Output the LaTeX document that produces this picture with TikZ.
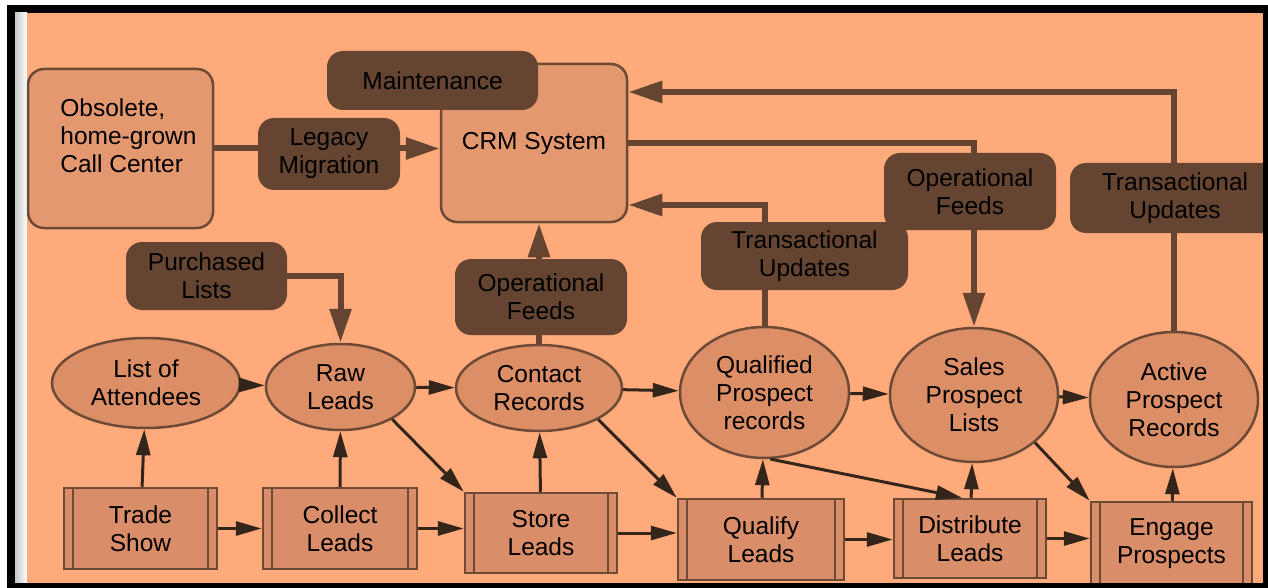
\documentclass[tikz,border=0pt]{standalone}
\usepackage{fontspec}
\setmainfont{Liberation Sans}
\usetikzlibrary{arrows.meta,shapes.geometric}
\definecolor{peach}{RGB}{255,170,123}
\definecolor{boxfill}{RGB}{228,152,112}
\definecolor{recfill}{RGB}{220,142,103}
\definecolor{procfill}{RGB}{217,141,104}
\definecolor{dark}{RGB}{101,69,50}
\definecolor{rim}{RGB}{108,74,54}
\definecolor{ink}{RGB}{52,37,27}
\begin{document}
\begin{tikzpicture}[x=1pt,y=-1pt,>={Triangle[length=26pt,width=14pt]},
	every node/.style={font=\fontsize{24.5}{28}\selectfont,align=center,inner sep=0pt},
	lightbox/.style={rectangle,draw=rim,line width=2.5pt,fill=boxfill,rounded corners=16pt},
	darkbox/.style={rectangle,fill=dark,rounded corners=16pt},
	record/.style={ellipse,draw=rim,line width=2.5pt,fill=recfill},
	process/.style={rectangle,draw=rim,line width=2.5pt,fill=procfill,
		path picture={\draw[rim,line width=2.5pt]
			([xshift=9pt]path picture bounding box.north west) -- ([xshift=9pt]path picture bounding box.south west)
			([xshift=-9pt]path picture bounding box.north east) -- ([xshift=-9pt]path picture bounding box.south east);}},
	flow/.style={draw=ink,line width=3pt},
	feed/.style={draw=dark,line width=6pt,>={Triangle[length=34pt,width=21pt]}}]
	\useasboundingbox (0,0) rectangle (1268,588);
	% frame and background
	\fill[white] (0,0) rectangle (1268,588);
	\fill[black] (7,5) rectangle (1268,588);
	\shade[left color=gray!45,right color=white] (15,13) rectangle (27,583);
	\fill[peach] (27,13) rectangle (1263,583);
	% systems and feeds
	\node[lightbox,minimum width=185pt,minimum height=159pt,align=left] (obs) at (120.5,148.5)
		{\hspace*{16pt}Obsolete,\\\hspace*{16pt}home-grown\\\hspace*{16pt}Call Center\rule[-26pt]{0pt}{0pt}};
	\node[lightbox,minimum width=186pt,minimum height=158pt] (crm) at (534,143) {CRM System};
	\node[darkbox,minimum width=211pt,minimum height=59pt] (maint) at (432.5,80.5) {Maintenance};
	\node[darkbox,minimum width=142pt,minimum height=72pt] (legacy) at (329,154) {Legacy\\Migration};
	\node[darkbox,minimum width=161pt,minimum height=68pt] (purch) at (206.5,276) {Purchased\\Lists};
	\node[darkbox,minimum width=172pt,minimum height=76pt] (opfeedA) at (541,297) {Operational\\Feeds};
	\node[darkbox,minimum width=207pt,minimum height=68pt] (trupdA) at (804.5,256) {Transactional\\Updates};
	\node[darkbox,minimum width=172pt,minimum height=77pt] (opfeedB) at (970,191.5) {Operational\\Feeds};
	\node[darkbox,minimum width=210pt,minimum height=70pt] (trupdB) at (1175,198) {Transactional\\Updates};
	% records
	\node[record,minimum width=188pt,minimum height=90pt] (attend) at (146,383) {List of\\Attendees};
	\node[record,minimum width=149pt,minimum height=86pt] (rawleads) at (340.5,387) {Raw\\Leads};
	\node[record,minimum width=166pt,minimum height=86pt] (contacts) at (539,388) {Contact\\Records};
	\node[record,minimum width=169pt,minimum height=131pt] (qualrec) at (764.5,392.5) {Qualified\\Prospect\\records};
	\node[record,minimum width=168pt,minimum height=134pt] (salesl) at (974,395) {Sales\\Prospect\\Lists};
	\node[record,minimum width=168pt,minimum height=135pt] (activer) at (1174,399.5) {Active\\Prospect\\Records};
	% processes
	\node[process,minimum width=153pt,minimum height=81pt] (trade) at (140.5,528.5) {Trade\\Show};
	\node[process,minimum width=154pt,minimum height=81pt] (collect) at (340,528.5) {Collect\\Leads};
	\node[process,minimum width=152pt,minimum height=80pt] (store) at (541,533) {Store\\Leads};
	\node[process,minimum width=166pt,minimum height=81pt] (qualify) at (761,539.5) {Qualify\\Leads};
	\node[process,minimum width=152pt,minimum height=79pt] (distrib) at (970,538.5) {Distribute\\Leads};
	\node[process,minimum width=161pt,minimum height=84pt] (engage) at (1171.5,544) {Engage\\Prospects};
	% lead flow
	\draw[flow,->] (trade) -- (attend);
	\draw[flow,->] (collect) -- (rawleads);
	\draw[flow,->] (store) -- (contacts);
	\draw[flow,->] (qualify) -- (qualrec);
	\draw[flow,->] (distrib) -- (salesl);
	\draw[flow,->] (engage) -- (activer);
	\draw[flow,->] (trade) -- (collect);
	\draw[flow,->] (collect.east) -- (collect.east -| store.west);
	\draw[flow,->] (store.east) -- (store.east -| qualify.west);
	\draw[flow,->] (qualify.east) -- (qualify.east -| distrib.west);
	\draw[flow,->] (distrib.east) -- (distrib.east -| engage.west);
	\draw[flow,->] (attend) -- (rawleads);
	\draw[flow,->] (rawleads) -- (contacts);
	\draw[flow,->] (contacts) -- (qualrec);
	\draw[flow,->] (qualrec) -- (salesl);
	\draw[flow,->] (salesl) -- (activer);
	\draw[flow,->] (rawleads.-32) -- (store.north west);
	\draw[flow,->] (contacts.-28) -- (qualify.north west);
	\draw[flow,->] (qualrec.-85) -- ([xshift=-8pt]distrib.north);
	\draw[flow,->] (salesl.-38) -- (engage.north west);
	% crm feeds
	\draw[feed] (obs.east) -- (legacy.west |- obs.east);
	\draw[feed,->] (legacy.east |- obs.east) -- (crm.west |- obs.east);
	\draw[feed,->] (purch.east) -| (rawleads.north);
	\draw[feed] (contacts.north) -- (contacts.north |- opfeedA.south);
	\draw[feed,->] (contacts.north |- opfeedA.north) -- (contacts.north |- crm.south);
	\draw[feed] (qualrec.north) -- (qualrec.north |- trupdA.south);
	\draw[feed,->] (qualrec.north |- trupdA.north) |- ([yshift=-62pt]crm.east);
	\draw[feed] (crm.east) -| (opfeedB.north -| salesl.north);
	\draw[feed,->] (opfeedB.south -| salesl.north) -- (salesl.north);
	\draw[feed] (activer.north) -- (activer.north |- trupdB.south);
	\draw[feed,->] (activer.north |- trupdB.north) |- ([yshift=51pt]crm.east);
	% frame on top
	\fill[black] (1263,5) rectangle (1268,588);
	\fill[black] (7,583) rectangle (1268,588);
\end{tikzpicture}
\end{document}
